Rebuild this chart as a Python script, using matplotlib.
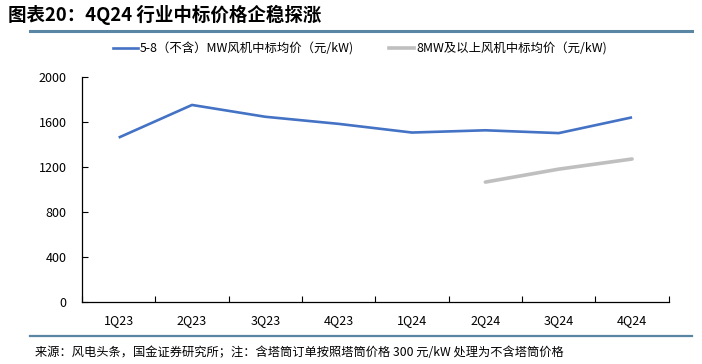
import numpy as np
import matplotlib.pyplot as plt
from matplotlib.lines import Line2D

plt.rcParams['font.family'] = ['Noto Sans CJK SC', 'DejaVu Sans']

quarters = ['1Q23', '2Q23', '3Q23', '4Q23', '1Q24', '2Q24', '3Q24', '4Q24']
price_5_8 = [1460, 1750, 1645, 1582, 1505, 1525, 1500, 1640]
price_8_up = [np.nan, np.nan, np.nan, np.nan, np.nan, 1065, 1180, 1270]

label_5_8 = '5-8（不含）MW风机中标均价（元/kW)'
label_8_up = '8MW及以上风机中标均价（元/kW)'
title = '图表20：4Q24 行业中标价格企稳探涨'
source = '来源：风电头条，国金证券研究所；注：含塔筒订单按照塔筒价格 300 元/kW 处理为不含塔筒价格'

blue = '#4472C4'
gray = '#BFBFBF'

fig = plt.figure(figsize=(7.02, 3.64), dpi=100)
ax = fig.add_axes([0.1168, 0.1703, 0.8358, 0.6187])

x = np.arange(len(quarters))
ax.plot(x, price_5_8, color=blue, lw=1.9, solid_capstyle='butt')
ax.plot(x, price_8_up, color=gray, lw=2.6, solid_capstyle='round')

ax.set_xlim(-0.5, len(quarters) - 0.5)
ax.set_ylim(0, 2000)
ax.set_yticks(range(0, 2001, 400))
ax.set_xticks(x)
ax.set_xticklabels(quarters)
ax.set_xticks(np.arange(-0.5, len(quarters)), minor=True)
ax.tick_params(axis='x', which='major', length=0, pad=9, labelsize=9)
ax.tick_params(axis='x', which='minor', direction='in', length=4, width=0.8)
ax.tick_params(axis='y', direction='in', length=4, width=0.8, pad=11, labelsize=9)

for s in ['top', 'right']:
    ax.spines[s].set_visible(False)
for s in ['left', 'bottom']:
    ax.spines[s].set_linewidth(0.9)
    ax.spines[s].set_color('black')

handles = [Line2D([], [], color=blue, lw=1.9), Line2D([], [], color=gray, lw=2.6)]
fig.legend(handles, [label_5_8, label_8_up], ncol=2, frameon=False,
           loc='center left', bbox_to_anchor=(0.145, 0.865), fontsize=8.9,
           handlelength=2.0, handletextpad=0.15, columnspacing=2.9)

fig.text(0.011, 0.958, title, fontsize=13.3, fontweight='bold', style='italic',
         va='center', ha='left')
fig.add_artist(Line2D([0.043, 0.986], [0.915, 0.915], color='#5B86A3', lw=2.2,
                      transform=fig.transFigure))
fig.add_artist(Line2D([0.043, 0.986], [0.076, 0.076], color='#5B86A3', lw=1.6,
                      transform=fig.transFigure))
fig.text(0.05, 0.031, source, fontsize=8.8, va='center', ha='left')

fig.savefig('out.png', dpi=100)
